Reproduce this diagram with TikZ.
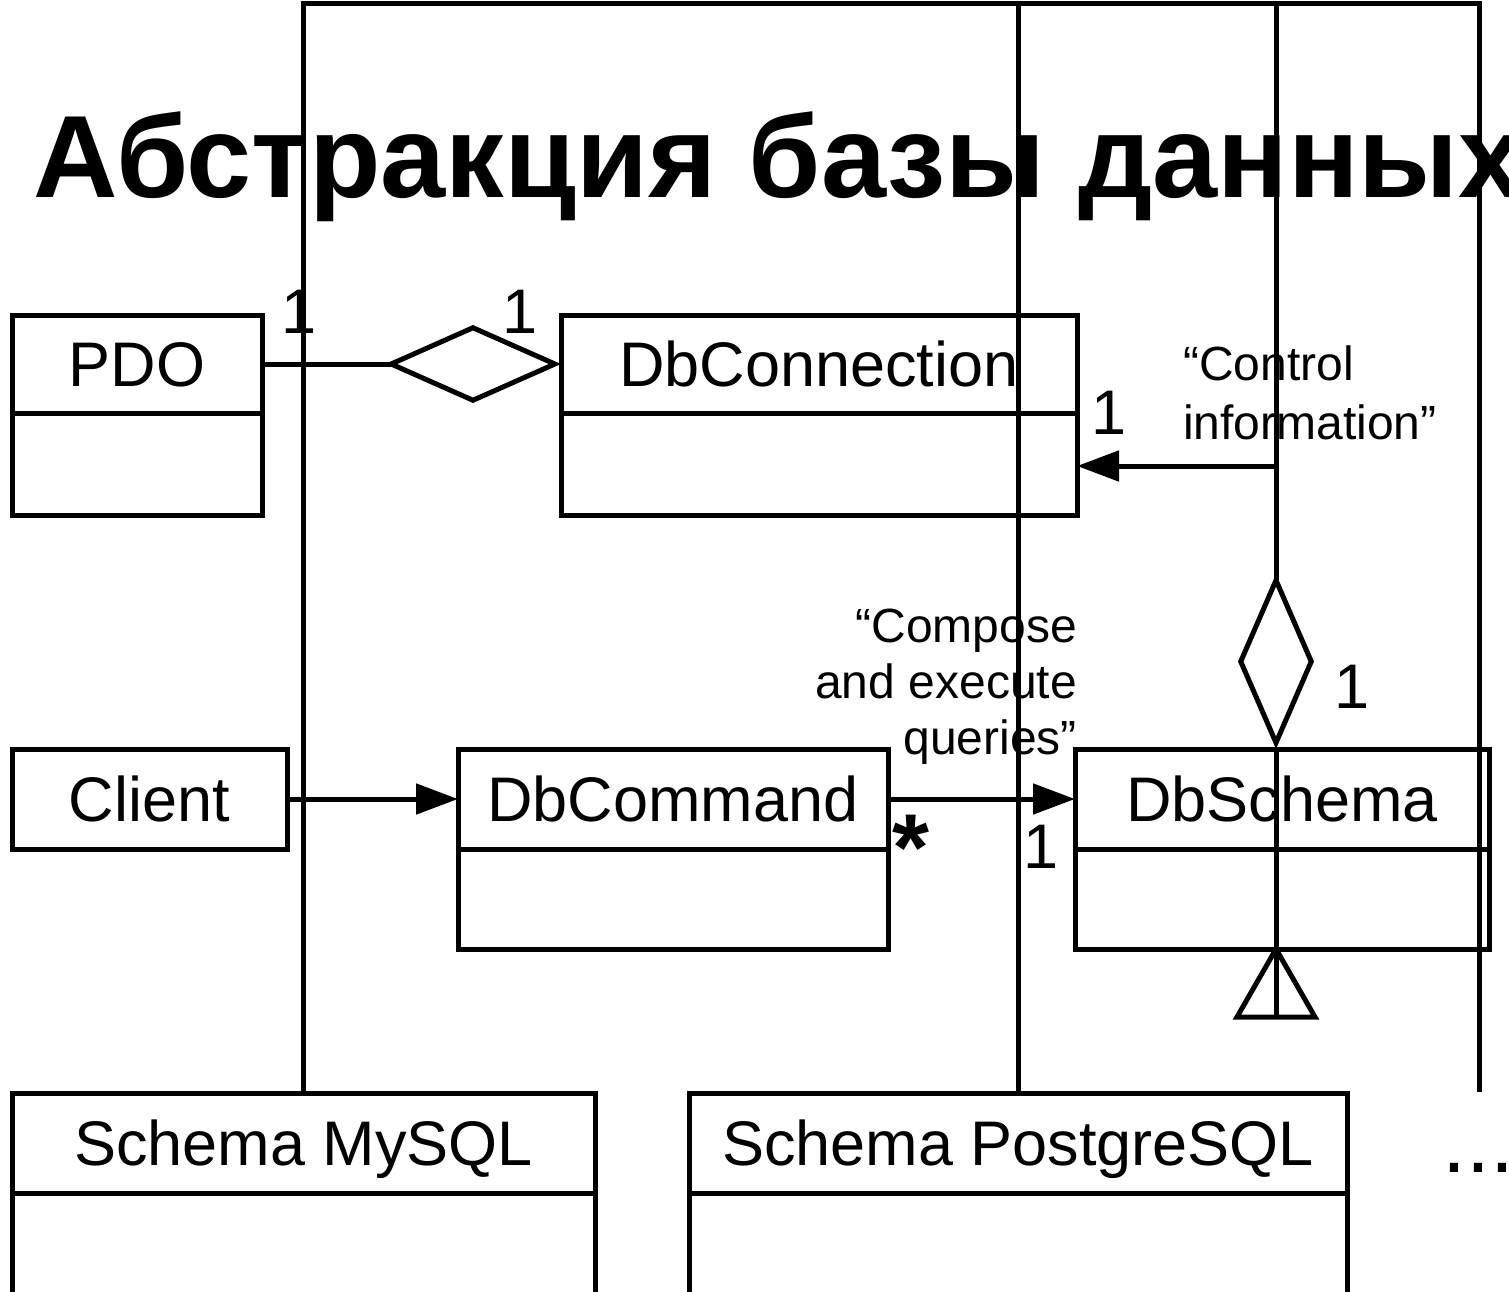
\documentclass[tikz,border=0pt]{standalone}
\usepackage{fontspec}
\setmainfont{Liberation Sans}
\usetikzlibrary{arrows.meta}
\begin{document}
\begin{tikzpicture}[x=1pt,y=-1pt,
  ln/.style={line width=5pt},
  cell/.style={draw,line width=5pt,outer sep=0pt,inner sep=0pt,anchor=north west,
     font=\fontsize{63}{63}\selectfont,text height=45pt,text depth=0pt},
  mult/.style={font=\fontsize{63}{63}\selectfont,inner sep=0pt,anchor=base west},
  note/.style={inner sep=0pt},
  arr/.style={-{Triangle[length=42pt,width=30pt]}},
]
\useasboundingbox (0,0) rectangle (1509,1291);
\fill[white] (0,0) rectangle (1509,1291);
\clip (0,0) rectangle (1509,1291);

\node[anchor=base west,inner sep=0pt,font=\fontsize{117}{117}\selectfont\bfseries] (title) at (33,197) {Абстракция базы данных};

% classes
\node[cell,minimum width=250pt,minimum height=98pt] (pdo) at (12,315) {PDO};
\node[cell,minimum width=250pt,minimum height=102pt] (pdob) at (12,413) {};
\node[cell,minimum width=516pt,minimum height=98pt] (dbconn) at (561,315) {DbConnection};
\node[cell,minimum width=516pt,minimum height=102pt] (dbconnb) at (561,413) {};
\node[cell,minimum width=275pt,minimum height=100pt] (client) at (12,749) {Client};
\node[cell,minimum width=430pt,minimum height=100pt] (dbcmd) at (458,749) {DbCommand};
\node[cell,minimum width=430pt,minimum height=100pt] (dbcmdb) at (458,849) {};
\node[cell,minimum width=414pt,minimum height=100pt] (dbschema) at (1075,749) {DbSchema};
\node[cell,minimum width=414pt,minimum height=100pt] (dbschemab) at (1075,849) {};
\node[cell,minimum width=583pt,minimum height=100pt] (mysql) at (12,1093) {Schema MySQL};
\node[cell,minimum width=583pt,minimum height=140pt] (mysqlb) at (12,1193) {};
\node[cell,minimum width=658pt,minimum height=100pt] (pgsql) at (689,1093) {Schema PostgreSQL};
\node[cell,minimum width=658pt,minimum height=140pt] (pgsqlb) at (689,1193) {};

% coordinates
\coordinate (topy) at (0,3);
\coordinate (tA) at (mysql.north |- topy);
\coordinate (tB) at (pgsql.north |- topy);
\coordinate (tC) at (1276,3);
\coordinate (tD) at (1479,3);
\coordinate (dE) at (1479,1092);
\coordinate (ci) at (1276,466);
\coordinate (sTop) at (tC |- dbschema.north);
\coordinate (sBot) at (tC |- dbschemab.south);
\coordinate (triB) at (1276,1017);

% tree lines
\draw[ln] (mysql.north) -- (tA) -- (tD) -- (dE);
\draw[ln] (pgsql.north) -- (tB);
\draw[ln,-{Diamond[open,length=175pt,width=76pt]}] (tC) -- (sTop);
\draw[ln] (sTop) -- (triB);
\draw[ln,line join=miter] (sBot) -- ([xshift=-39pt]triB) -- ([xshift=39pt]triB) -- cycle;

% associations
\draw[ln,-{Diamond[open,length=176pt,width=78pt]}] (pdo.east) -- (dbconn.west);
\draw[ln,arr] (ci) -- (ci -| dbconnb.east);
\draw[ln,arr] (client.east) -- (dbcmd.west);
\draw[ln,arr] (dbcmd.east) -- (dbschema.west);

% labels
\node[mult] (m1) at (281,333) {1};
\node[mult] (m2) at (502,333) {1};
\node[mult] (m3) at (1091,434) {1};
\node[mult] (m4) at (1334,708) {1};
\node[mult] (m5) at (1023,868) {1};
\node[mult,font=\fontsize{95}{95}\selectfont\bfseries] (star) at (892,880) {*};
\node[note,anchor=base west] (ctl) at (1183,380) {\fontsize{48}{59}\selectfont\begin{tabular}[t]{@{}l@{}}“Control\\information”\end{tabular}};
\node[note,anchor=base east] (cmp) at (1077,642) {\fontsize{48}{56}\selectfont\begin{tabular}[t]{@{}r@{}}“Compose\\and execute\\queries”\end{tabular}};
\node[mult,font=\fontsize{86}{86}\selectfont] (dots) at (1442,1172) {...};
\end{tikzpicture}
\end{document}
